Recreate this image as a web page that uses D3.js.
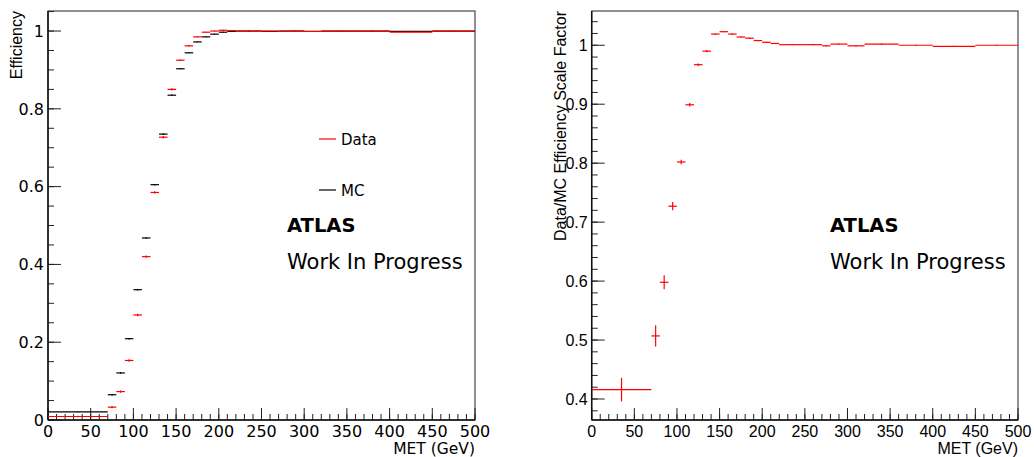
<!DOCTYPE html>
<html>
<head>
<meta charset="utf-8">
<script src="https://cdn.jsdelivr.net/npm/d3@7"></script>
<style>
  body { margin: 0; background: #fff; }
  svg { display: block; }
  .lbl { font-family: "DejaVu Sans", Verdana, sans-serif; }
  .lbl2 { font-family: "Liberation Sans", Arial, sans-serif; }
</style>
</head>
<body>
<div id="chart"></div>
<script>
// bin edges in MET (GeV)
var binEdges = [0, 70, 80, 90, 100, 110, 120, 130, 140, 150, 160, 170, 180, 190, 200, 210, 220, 250, 270, 280, 300, 320, 360, 400, 450, 500];

// efficiency, data and MC
var effData = [0.009, 0.033, 0.073, 0.153, 0.270, 0.420, 0.585, 0.727, 0.850, 0.925, 0.962, 0.985, 0.997, 1.000, 1.002, 1.001, 1.000, 1.000, 0.999, 1.000, 0.999, 1.000, 1.000, 0.997, 1.000];
var effDataErr = [0.002, 0.003, 0.003, 0.003, 0.003, 0.003, 0.003, 0.003, 0.003, 0.002, 0.002, 0.001, 0.001, 0.001, 0.001, 0.001, 0.001, 0.001, 0.001, 0.001, 0.001, 0.001, 0.001, 0.001, 0.001];
var effMC = [0.021, 0.065, 0.121, 0.209, 0.335, 0.468, 0.605, 0.735, 0.835, 0.903, 0.944, 0.972, 0.985, 0.992, 0.997, 0.999, 1.000, 0.999, 1.000, 1.000, 0.999, 1.000, 1.000, 0.999, 1.000];
var effMCErr = [0.001, 0.002, 0.002, 0.002, 0.002, 0.002, 0.002, 0.002, 0.002, 0.001, 0.001, 0.001, 0.001, 0.001, 0.001, 0.001, 0.001, 0.001, 0.001, 0.001, 0.001, 0.001, 0.001, 0.001, 0.001];

// data/MC scale factor
var sfValues = [0.416, 0.507, 0.598, 0.727, 0.802, 0.899, 0.967, 0.990, 1.019, 1.023, 1.019, 1.014, 1.012, 1.008, 1.005, 1.003, 1.001, 1.001, 0.999, 1.002, 0.999, 1.002, 1.000, 0.998, 1.000];
var sfErr = [0.020, 0.018, 0.012, 0.007, 0.004, 0.003, 0.002, 0.002, 0.001, 0.001, 0.001, 0.001, 0.001, 0.001, 0.001, 0.001, 0.001, 0.001, 0.001, 0.001, 0.001, 0.001, 0.001, 0.001, 0.001];

var leftTicks = [0, 0.2, 0.4, 0.6, 0.8, 1];
var rightTicks = [0.4, 0.5, 0.6, 0.7, 0.8, 0.9, 1];
var xTicks = [0, 50, 100, 150, 200, 250, 300, 350, 400, 450, 500];

var width = 1034, height = 457;

var svg = d3.select("#chart").append("svg")
    .attr("width", width)
    .attr("height", height);

function makeBins(vals, errs) {
    return vals.map((v, i) => ({ lo: binEdges[i], hi: binEdges[i + 1], v: v, e: errs[i] }));
}

// draws one ROOT-like pad
function drawPad(opt) {
    let x = d3.scaleLinear().domain([0, 500]).range([opt.left, opt.right]);
    let y = d3.scaleLinear().domain(opt.yDomain).range([opt.bottom, opt.top]);
    let g = svg.append("g");

    // frame
    g.append("rect")
        .attr("x", opt.left).attr("y", opt.top)
        .attr("width", opt.right - opt.left).attr("height", opt.bottom - opt.top)
        .attr("fill", "none").attr("stroke", "#222").attr("stroke-width", 1);

    // y ticks
    let yMinor = d3.range(opt.yMinorStart, opt.yDomain[1], opt.yMinorStep);
    g.selectAll(".ymin").data(yMinor).enter().append("line")
        .attr("x1", opt.left).attr("x2", opt.left + 6)
        .attr("y1", d => y(d)).attr("y2", d => y(d))
        .attr("stroke", "#222");
    g.selectAll(".ymaj").data(opt.yTicks).enter().append("line")
        .attr("x1", opt.left).attr("x2", opt.left + 13)
        .attr("y1", d => y(d)).attr("y2", d => y(d))
        .attr("stroke", "#222");
    g.selectAll(".ylab").data(opt.yTicks).enter().append("text")
        .attr("class", opt.tickFont)
        .attr("x", opt.left - 4).attr("y", d => y(d))
        .attr("dy", "0.36em")
        .attr("text-anchor", "end")
        .attr("font-size", 16)
        .text(d => d3.format("")(d));

    // x ticks
    g.selectAll(".xmin").data(d3.range(0, 501, 10)).enter().append("line")
        .attr("x1", d => x(d)).attr("x2", d => x(d))
        .attr("y1", opt.bottom).attr("y2", opt.bottom - 6)
        .attr("stroke", "#222");
    g.selectAll(".xmaj").data(xTicks).enter().append("line")
        .attr("x1", d => x(d)).attr("x2", d => x(d))
        .attr("y1", opt.bottom).attr("y2", opt.bottom - 12)
        .attr("stroke", "#222");
    g.selectAll(".xlab").data(xTicks).enter().append("text")
        .attr("class", opt.tickFont)
        .attr("x", d => x(d)).attr("y", opt.bottom + 17)
        .attr("text-anchor", "middle")
        .attr("font-size", 16)
        .text(d => d);

    // axis lines a bit heavier
    g.append("line").attr("x1", opt.left).attr("x2", opt.left)
        .attr("y1", opt.top).attr("y2", opt.bottom)
        .attr("stroke", "#111").attr("stroke-width", 1.5);
    g.append("line").attr("x1", opt.left).attr("x2", opt.right)
        .attr("y1", opt.bottom).attr("y2", opt.bottom)
        .attr("stroke", "#111").attr("stroke-width", 1.5);

    // titles
    g.append("text")
        .attr("class", opt.titleFont)
        .attr("x", opt.right).attr("y", 454)
        .attr("text-anchor", "end")
        .attr("font-size", opt.xTitleSize)
        .text("MET (GeV)");
    g.append("text")
        .attr("class", "lbl2")
        .attr("transform", "translate(" + opt.yTitleX + "," + opt.top + ") rotate(-90)")
        .attr("text-anchor", "end")
        .attr("font-size", 16)
        .text(opt.yTitle);

    // series
    opt.series.forEach(s => {
        let sg = g.append("g").attr("stroke", s.color).attr("stroke-width", 1.2);
        sg.selectAll(".h").data(s.bins).enter().append("line")
            .attr("x1", d => x(d.lo)).attr("x2", d => x(d.hi))
            .attr("y1", d => y(d.v)).attr("y2", d => y(d.v));
        sg.selectAll(".v").data(s.bins).enter().append("line")
            .attr("x1", d => x((d.lo + d.hi) / 2)).attr("x2", d => x((d.lo + d.hi) / 2))
            .attr("y1", d => y(d.v - d.e)).attr("y2", d => y(d.v + d.e));
    });

    // labels
    g.append("text").attr("class", "lbl")
        .attr("x", opt.labelX).attr("y", 232)
        .attr("font-size", 19.5).attr("font-weight", "bold")
        .text("ATLAS");
    g.append("text").attr("class", "lbl")
        .attr("x", opt.labelX).attr("y", 269)
        .attr("font-size", 21)
        .text("Work In Progress");
    return g;
}

let leftPad = drawPad({
    left: 48, right: 475, top: 11, bottom: 420,
    yDomain: [0, 1.0515], yTicks: leftTicks, yMinorStart: 0, yMinorStep: 0.05,
    tickFont: "lbl", titleFont: "lbl", xTitleSize: 15.5, yTitle: "Efficiency", yTitleX: 22,
    labelX: 287,
    series: [
        { color: "#000", bins: makeBins(effMC, effMCErr) },
        { color: "#ff0000", bins: makeBins(effData, effDataErr) }
    ]
});

let rightPad = drawPad({
    left: 591.7, right: 1018, top: 11, bottom: 420,
    yDomain: [0.3644, 1.0581], yTicks: rightTicks, yMinorStart: 0.38, yMinorStep: 0.02,
    tickFont: "lbl2", titleFont: "lbl2", xTitleSize: 16, yTitle: "Data/MC Efficiency Scale Factor", yTitleX: 566,
    labelX: 830,
    series: [
        { color: "#ff0000", bins: makeBins(sfValues, sfErr) }
    ]
});

// legend on the left pad
var legendNames = ["Data", "MC"];
var legendColors = ["#ff0000", "#000"];
var legendY = [139, 190];
legendNames.forEach((n, i) => {
    leftPad.append("line")
        .attr("x1", 319).attr("x2", 336)
        .attr("y1", legendY[i]).attr("y2", legendY[i])
        .attr("stroke", legendColors[i]).attr("stroke-width", 1.2);
    leftPad.append("text").attr("class", "lbl")
        .attr("x", 341).attr("y", legendY[i] + 6)
        .attr("font-size", 15)
        .text(n);
});
</script>
</body>
</html>
